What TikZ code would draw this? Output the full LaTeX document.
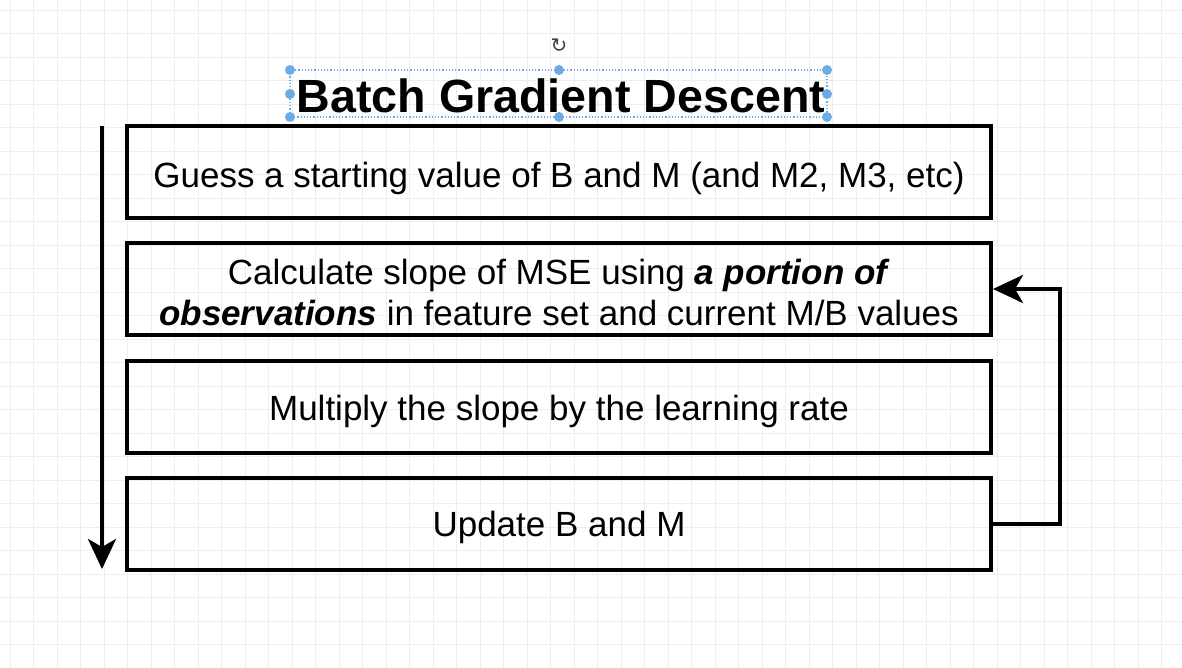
\documentclass[tikz,border=0pt]{standalone}
\usepackage{fontspec}
\setmainfont{Liberation Sans}
\newfontfamily\symfont{DejaVu Sans}
\usetikzlibrary{arrows.meta}
\definecolor{selblue}{RGB}{110,170,228}
\definecolor{gridc}{RGB}{236,238,242}
\tikzset{
  stepbox/.style={draw=black, line width=4pt, rectangle, minimum width=864pt, minimum height=92pt, inner sep=0pt},
  steptext/.style={inner sep=0pt, align=center, font=\fontsize{35}{41}\selectfont},
  flow/.style={line width=4pt, -{Stealth[length=30pt, width=28pt, inset=8pt]}},
  handle/.style={circle, fill=selblue, inner sep=0pt, minimum size=10pt}
}
\begin{document}
\begin{tikzpicture}[x=1pt, y=-1pt]
\useasboundingbox (0,0) rectangle (1182,668);
\fill[white] (0,0) rectangle (1182,668);
% faint grid
\foreach \i in {0,...,51} {\draw[gridc, line width=0.8pt] (10+23.5*\i,0) -- (10+23.5*\i,668);}
\foreach \j in {0,...,29} {\draw[gridc, line width=0.8pt] (0,10+23.5*\j) -- (1182,10+23.5*\j);}
% title with selection frame
\node[font=\fontsize{46.6}{50}\selectfont\bfseries, inner sep=0pt] (title) at (561,96) {Batch Gradient Descent};
\draw[selblue, line width=1.2pt, dotted] (290,70) rectangle (827,117);
\foreach \hx in {290,559,827} {\node[handle] (h\hx a) at (\hx,70) {}; \node[handle] (h\hx c) at (\hx,117) {};}
\node[handle] (hl) at (290,94) {};
\node[handle] (hr) at (827,94) {};
\node[font=\symfont\fontsize{20}{20}\selectfont, text=black!75, inner sep=0pt] (rot) at (559,46) {↻};
% steps
\node[stepbox] (b1) at (559,172) {};
\node[stepbox] (b2) at (559,289) {};
\node[stepbox] (b3) at (559,406.5) {};
\node[stepbox] (b4) at (559,523.5) {};
\node[steptext] (t1) at ([yshift=-6pt]b1.center) {Guess a starting value of B and M (and M2, M3, etc)};
\node[steptext] (t2) at ([yshift=-3pt]b2.center) {Calculate slope of MSE using \textbf{\textit{a portion of}}\\\textbf{\textit{observations}} in feature set and current M/B values};
\node[steptext] (t3) at ([yshift=-5pt]b3.center) {Multiply the slope by the learning rate};
\node[steptext] (t4) at ([yshift=-4pt]b4.center) {Update B and M};
% left flow arrow
\coordinate (ls) at (102,126);
\coordinate (le) at (102,569);
\draw[flow] (ls) -- (le);
% loop back
\coordinate (lc) at (1060,523.5);
\draw[flow] (b4.east) -- (lc) |- (b2.east);
\end{tikzpicture}
\end{document}
